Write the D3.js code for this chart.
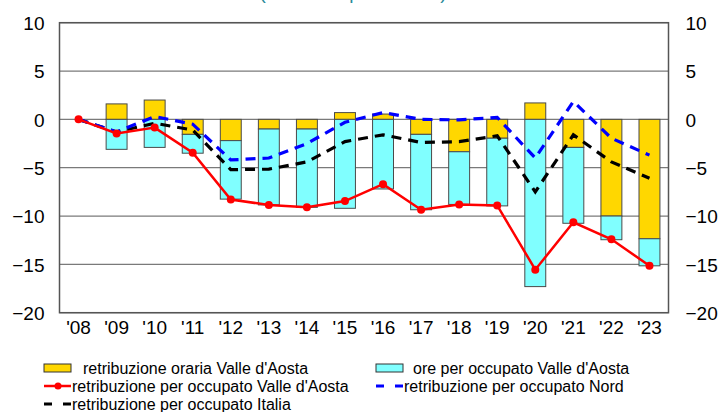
<!DOCTYPE html>
<html>
  <head>
    <meta http-equiv="Content-Type" content="text/html;charset=utf-8" />
    <title>Retribuzioni Valle d'Aosta</title>
    <script type="text/javascript" src="https://d3js.org/d3.v7.min.js"></script>
    <style>
      body { margin: 0; background: #fff; }
      svg { display: block; }
      text { font-family: "Liberation Sans", Arial, sans-serif; }
    </style>
  </head>
  <body>
    <div id="chart"></div>

    <script type="text/javascript">
      // data
      var years = ["'08", "'09", "'10", "'11", "'12", "'13", "'14", "'15",
                   "'16", "'17", "'18", "'19", "'20", "'21", "'22", "'23"];
      var orariaVdA = [0, 1.6, 2.0, -1.55, -2.2, -1.0, -1.0, 0.7,
                       0.55, -1.55, -3.35, -1.95, 1.7, -2.9, -10.0, -12.35];
      var oreVdA = [0, -3.1, -2.9, -1.95, -6.05, -7.85, -8.1, -9.2,
                    -7.2, -7.8, -5.45, -7.0, -17.3, -7.85, -2.45, -2.8];
      var occupatoVdA = [0, -1.45, -0.85, -3.45, -8.3, -8.85, -9.1, -8.45,
                         -6.7, -9.35, -8.8, -8.9, -15.55, -10.65, -12.4, -15.15];
      var occupatoNord = [0, -1.3, 0.3, -0.5, -4.2, -4.0, -2.5, -0.3,
                          0.7, 0.0, -0.05, 0.2, -4.0, 1.85, -1.95, -3.7];
      var occupatoItalia = [0, -1.3, -0.4, -1.1, -5.2, -5.15, -4.4, -2.3,
                            -1.6, -2.4, -2.3, -1.7, -7.5, -1.6, -4.4, -6.1];
      var yTicks = [10, 5, 0, -5, -10, -15, -20];

      var W = 718, H = 412;
      var plot = { left: 59.5, right: 668.5, top: 22.7, bottom: 312.7 };

      var svg = d3.select("#chart").append("svg")
        .attr("width", W)
        .attr("height", H);

      // title, mostly cut off at the top
      svg.append("text")
        .attr("x", 353)
        .attr("y", -1)
        .attr("text-anchor", "middle")
        .attr("fill", "#2b8a99")
        .style("font-size", "19px")
        .attr("textLength", 187)
        .text("(variazioni percentuali)");

      var x = d3.scaleBand()
        .domain(years)
        .range([plot.left, plot.right])
        .paddingInner(0.45)
        .paddingOuter(0.225);

      var y = d3.scaleLinear()
        .domain([-20, 10])
        .range([plot.bottom, plot.top]);

      var cx = function(d, i) { return x(years[i]) + x.bandwidth() / 2; };

      // grid lines
      svg.append("g")
        .selectAll("line")
        .data(yTicks)
        .join("line")
        .attr("x1", plot.left)
        .attr("x2", plot.right)
        .attr("y1", d => y(d))
        .attr("y2", d => y(d))
        .attr("stroke", "#7a7a7a")
        .attr("stroke-width", 1.2);

      // stacked bars
      var table = years.map((yr, i) => ({ year: yr, oraria: orariaVdA[i], ore: oreVdA[i] }));
      var stacked = d3.stack()
        .keys(["oraria", "ore"])
        .offset(d3.stackOffsetDiverging)(table);
      var barColors = { oraria: "#ffd700", ore: "#80ffff" };

      svg.append("g")
        .selectAll("g")
        .data(stacked)
        .join("g")
        .attr("fill", d => barColors[d.key])
        .selectAll("rect")
        .data(d => d.filter(s => s[1] - s[0] !== 0))
        .join("rect")
        .attr("x", d => x(d.data.year))
        .attr("width", x.bandwidth())
        .attr("y", d => y(d[1]))
        .attr("height", d => y(d[0]) - y(d[1]))
        .attr("stroke", "#4a4a4a")
        .attr("stroke-width", 1);

      // frame
      svg.append("rect")
        .attr("x", plot.left)
        .attr("y", plot.top)
        .attr("width", plot.right - plot.left)
        .attr("height", plot.bottom - plot.top)
        .attr("fill", "none")
        .attr("stroke", "#555")
        .attr("stroke-width", 1.5);

      var line = d3.line()
        .x(cx)
        .y(d => y(d));

      svg.append("path")
        .datum(occupatoItalia)
        .attr("d", line)
        .attr("fill", "none")
        .attr("stroke", "#000")
        .attr("stroke-width", 3.2)
        .attr("stroke-dasharray", "10,7");

      svg.append("path")
        .datum(occupatoNord)
        .attr("d", line)
        .attr("fill", "none")
        .attr("stroke", "#0000ff")
        .attr("stroke-width", 3.2)
        .attr("stroke-dasharray", "10,7");

      svg.append("path")
        .datum(occupatoVdA)
        .attr("d", line)
        .attr("fill", "none")
        .attr("stroke", "#ff0000")
        .attr("stroke-width", 2.5);

      svg.append("g")
        .selectAll("circle")
        .data(occupatoVdA)
        .join("circle")
        .attr("cx", cx)
        .attr("cy", d => y(d))
        .attr("r", 4)
        .attr("fill", "#ff0000");

      // axes
      var yLeft = d3.axisLeft(y).tickValues(yTicks).tickSize(0).tickPadding(15);
      var gL = svg.append("g")
        .attr("transform", "translate(" + plot.left + ",0)")
        .call(yLeft);
      var yRight = d3.axisRight(y).tickValues(yTicks).tickSize(0).tickPadding(17);
      var gR = svg.append("g")
        .attr("transform", "translate(" + plot.right + ",0)")
        .call(yRight);
      var xAxis = d3.axisBottom(x).tickSize(0).tickPadding(8);
      var gX = svg.append("g")
        .attr("transform", "translate(0," + plot.bottom + ")")
        .call(xAxis);

      [gL, gR, gX].forEach(g => {
        g.select(".domain").remove();
        g.selectAll("text")
          .attr("fill", "#000")
          .style("font-size", "19px")
          .style("font-family", "'Liberation Sans', Arial, sans-serif");
      });
      gL.selectAll("text").attr("dy", "0.36em");
      gR.selectAll("text").attr("dy", "0.36em");

      // legend
      var legend = [
        { label: "retribuzione oraria Valle d'Aosta", type: "box", color: "#ffd700", x: 44, y: 368, tx: 83 },
        { label: "ore per occupato Valle d'Aosta", type: "box", color: "#80ffff", x: 376, y: 368, tx: 413 },
        { label: "retribuzione per occupato Valle d'Aosta", type: "dot", color: "#ff0000", x: 44, y: 386, tx: 72 },
        { label: "retribuzione per occupato Nord", type: "dash", color: "#0000ff", x: 376, y: 386, tx: 404 },
        { label: "retribuzione per occupato Italia", type: "dash", color: "#000", x: 44, y: 404, tx: 72 }
      ];

      var lg = svg.append("g").selectAll("g").data(legend).join("g");

      lg.filter(d => d.type === "box").append("rect")
        .attr("x", d => d.x)
        .attr("y", d => d.y - 4)
        .attr("width", 27)
        .attr("height", 8)
        .attr("fill", d => d.color)
        .attr("stroke", "#333")
        .attr("stroke-width", 1);

      lg.filter(d => d.type !== "box").append("line")
        .attr("x1", d => d.x)
        .attr("x2", d => d.x + 27)
        .attr("y1", d => d.y)
        .attr("y2", d => d.y)
        .attr("stroke", d => d.color)
        .attr("stroke-width", d => d.type === "dot" ? 2.5 : 3.2)
        .attr("stroke-dasharray", d => d.type === "dash" ? "8,11" : null);

      lg.filter(d => d.type === "dot").append("circle")
        .attr("cx", d => d.x + 14)
        .attr("cy", d => d.y)
        .attr("r", 3.5)
        .attr("fill", d => d.color);

      lg.append("text")
        .attr("x", d => d.tx)
        .attr("y", d => d.y)
        .attr("dy", "0.36em")
        .style("font-size", "16px")
        .attr("fill", "#000")
        .text(d => d.label);
    </script>
  </body>
</html>
